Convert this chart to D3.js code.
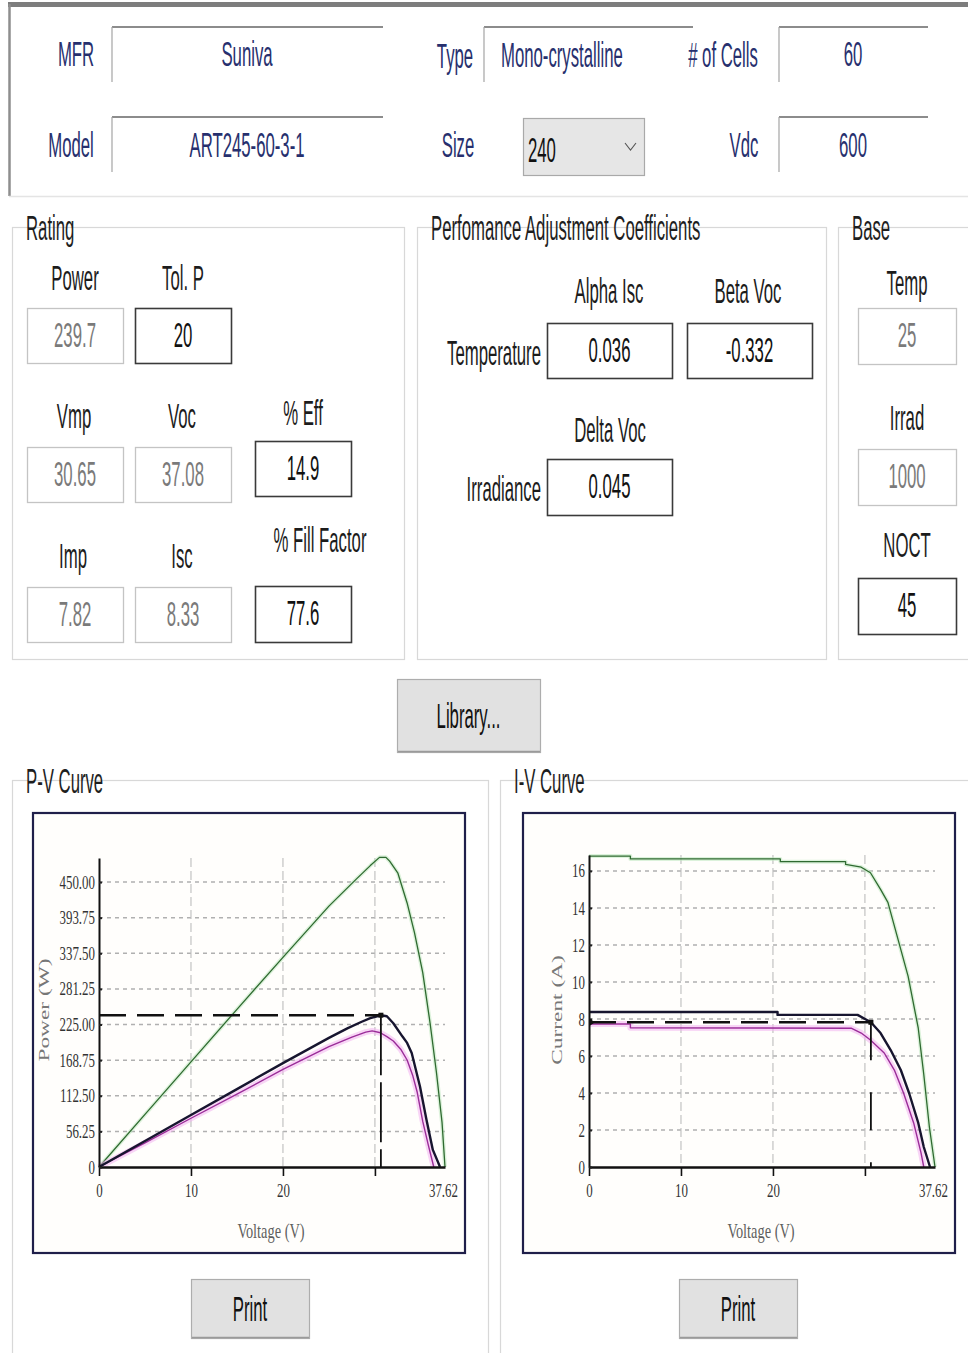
<!DOCTYPE html>
<html>
<head>
<meta charset="utf-8">
<title>PV Module Data</title>
<script src="https://cdn.jsdelivr.net/npm/d3@7"></script>
<style>
  html, body { margin: 0; padding: 0; background: #ffffff; }
  svg { display: block; }
</style>
</head>
<body>
<svg id="form" width="968" height="1353"></svg>
<script>
// ---------------- module data ----------------
const moduleFields = {
  mfr: "Suniva", type: "Mono-crystalline", cells: "60",
  model: "ART245-60-3-1", size: "240", vdc: "600"
};
const ratingValues = { power: "239.7", tolP: "20", vmp: "30.65", voc: "37.08",
  eff: "14.9", imp: "7.82", isc: "8.33", fillFactor: "77.6" };
const coefficientValues = { alphaIsc: "0.036", betaVoc: "-0.332", deltaVoc: "0.045" };
const baseValues = { temp: "25", irrad: "1000", noct: "45" };

// rated maximum power point (from the rating fields)
const ratedVmp = 30.65;
const ratedPmp = 239.7;
const ratedImp = 7.82;
const ratedVoc = 37.08;

// axis ticks
const voltageMax = 37.62;
const voltageTicks = [0, 10, 20, 30, 37.62];
const voltageTickLabels = ["0", "10", "20", "", "37.62"];
const powerMax = 488;
const powerTicks = [0, 56.25, 112.5, 168.75, 225, 281.25, 337.5, 393.75, 450];
const powerTickLabels = ["0", "56.25", "112.50", "168.75", "225.00", "281.25", "337.50", "393.75", "450.00"];
const currentMax = 16.86;
const currentTicks = [0, 2, 4, 6, 8, 10, 12, 14, 16];
const currentTickLabels = ["0", "2", "4", "6", "8", "10", "12", "14", "16"];

// P-V curves: [voltage V, power W]
const pvHighIrradiance = [[0,0],[5,83],[10,166],[15,249],[20,331],[25,412],[28,455],[29.5,476],[30.5,489],
  [31.2,489],[31.6,483],[32.5,464],[33.5,417],[34.3,370],[35.2,307],[36,227],[36.7,148],[37.3,70],[37.62,0]];
const pvRated = [[0,0],[5,41],[10,82],[15,123],[20,164],[25,204],[27,219],[28.5,229],[29.5,235],[30.65,239.7],
  [31.3,238],[32,227],[33,206],[33.5,196],[34,180],[34.9,127],[35.6,75],[36.3,27],[37.08,0]];
const pvHot = [[0,0],[5,38],[10,77],[15,115],[20,154],[25,190],[27.5,205],[29,213],[29.7,215],[30.6,212],
  [31.3,206],[32,199],[32.8,186],[33.5,169],[34.1,145],[34.6,118],[35.2,72],[35.8,35],[36.4,0]];

// I-V curves: [voltage V, current A]
const ivHighIrradiance = [[0,16.8],[4.5,16.8],[4.5,16.65],[20.8,16.65],[20.8,16.5],[27.9,16.5],[27.9,16.35],
  [29.6,16.2],[30.6,15.9],[31.7,15.0],[32.5,14.3],[33.6,12.3],[34.7,10.3],[35.8,7.5],[36.4,5.0],[37.0,2.2],[37.62,0]];
const ivRated = [[0,8.38],[20.5,8.38],[20.5,8.22],[29.2,8.22],[30.65,7.82],[31.7,7.24],[32.8,6.32],[33.9,5.24],
  [34.8,4.0],[35.8,2.38],[36.4,1.08],[37.08,0]];
const ivHot = [[0,7.73],[4.5,7.73],[4.5,7.52],[28.5,7.5],[29.6,7.24],[30.6,6.86],[32.1,6.16],[33.2,5.24],
  [34.2,4.0],[35.3,2.38],[36.1,0.76],[36.4,0]];

// ---------------- drawing helpers ----------------
const svg = d3.select("#form");
const UI_FONT = "'Liberation Sans', Arial, sans-serif";
const CHART_FONT = "'Liberation Serif', 'Times New Roman', serif";
const NAVY = "#27306e";
const TICK_SX = 0.68;

function uiText(g, s, x, y, o = {}) {
  return g.append("text")
    .attr("transform", `translate(${x},${y}) scale(${o.sx ?? 0.465},1)`)
    .attr("text-anchor", o.anchor || "middle")
    .attr("dominant-baseline", "central")
    .style("font-family", o.family || UI_FONT)
    .style("font-size", (o.size || 36) + "px")
    .attr("fill", o.fill || "#1c1c1c")
    .text(s);
}

function sunkenField(x1, x2, y, depth) {
  svg.append("line").attr("x1", x1).attr("x2", x2).attr("y1", y).attr("y2", y)
    .attr("stroke", "#8c8c8c").attr("stroke-width", 2);
  svg.append("line").attr("x1", x1).attr("x2", x1).attr("y1", y).attr("y2", y + depth)
    .attr("stroke", "#a4a4a4").attr("stroke-width", 1.2);
}

function valueBox(x, y, w, h, s, enabled, textY) {
  svg.append("rect").attr("x", x + 0.5).attr("y", y + 0.5).attr("width", w).attr("height", h)
    .attr("fill", "#ffffff")
    .attr("stroke", enabled ? "#3a3a3a" : "#c4c4c4")
    .attr("stroke-width", enabled ? 1.6 : 1.3);
  uiText(svg, s, x + w / 2, textY ?? (y + h / 2 - 1), { fill: enabled ? "#111" : "#7a7a7a" });
}

function groupBox(x1, y1, x2, y2, title) {
  svg.append("rect").attr("x", x1 + 0.5).attr("y", y1 + 0.5)
    .attr("width", x2 - x1).attr("height", y2 - y1)
    .attr("fill", "none").attr("stroke", "#d8d8d8").attr("stroke-width", 1.2);
  const t = uiText(svg, title, x1 + 14, y1 + 1, { anchor: "start", fill: "#1e1e1e" });
  const w = t.node().getComputedTextLength() * 0.465;
  svg.insert("rect", "text").attr("x", x1 + 10).attr("y", y1 - 4).attr("width", w + 8).attr("height", 9)
    .attr("fill", "#ffffff");
}

function button(x, y, w, h, s) {
  svg.append("rect").attr("x", x + 0.5).attr("y", y + 0.5).attr("width", w).attr("height", h)
    .attr("fill", "#e1e1e1").attr("stroke", "#adadad").attr("stroke-width", 1.2);
  svg.append("line").attr("x1", x + 1).attr("x2", x + w).attr("y1", y + h - 0.5).attr("y2", y + h - 0.5)
    .attr("stroke", "#9a9a9a").attr("stroke-width", 1.5);
  uiText(svg, s, x + w / 2, y + h / 2, { fill: "#111" });
}

// ---------------- header panel ----------------
svg.append("line").attr("x1", 8).attr("x2", 968).attr("y1", 4.5).attr("y2", 4.5)
  .attr("stroke", "#7d7d7d").attr("stroke-width", 5);
svg.append("line").attr("x1", 9.5).attr("x2", 9.5).attr("y1", 4).attr("y2", 196)
  .attr("stroke", "#8e8e8e").attr("stroke-width", 2.5);
svg.append("line").attr("x1", 9).attr("x2", 968).attr("y1", 196.5).attr("y2", 196.5)
  .attr("stroke", "#e4e4e4").attr("stroke-width", 1.5);

uiText(svg, "MFR", 76, 54, { fill: NAVY });
sunkenField(112, 383, 27, 55);
uiText(svg, moduleFields.mfr, 247, 54, { fill: NAVY });

uiText(svg, "Type", 455, 56, { fill: NAVY });
sunkenField(484, 693, 27, 55);
uiText(svg, moduleFields.type, 501, 55, { fill: NAVY, anchor: "start" });

uiText(svg, "# of Cells", 723, 55, { fill: NAVY });
sunkenField(779, 928, 27, 55);
uiText(svg, moduleFields.cells, 853, 54, { fill: NAVY });

uiText(svg, "Model", 71, 145, { fill: NAVY });
sunkenField(112, 383, 117, 55);
uiText(svg, moduleFields.model, 247, 145, { fill: NAVY });

uiText(svg, "Size", 458, 145, { fill: NAVY });
svg.append("rect").attr("x", 523.5).attr("y", 118.5).attr("width", 121).attr("height", 57)
  .attr("fill", "#e6e6e6").attr("stroke", "#a9a9a9").attr("stroke-width", 1.2);
uiText(svg, moduleFields.size, 528, 150, { fill: "#111", anchor: "start" });
svg.append("path").attr("d", "M625,143 L630.5,150 L636,143").attr("fill", "none")
  .attr("stroke", "#555").attr("stroke-width", 1.1);

uiText(svg, "Vdc", 744, 145, { fill: NAVY });
sunkenField(779, 928, 117, 55);
uiText(svg, moduleFields.vdc, 853, 145, { fill: NAVY });

// ---------------- rating group ----------------
groupBox(12, 227, 404, 659, "Rating");
uiText(svg, "Power", 75, 278);
uiText(svg, "Tol. P", 183, 278);
valueBox(27, 308, 96, 55, ratingValues.power, false);
valueBox(135, 308, 96, 55, ratingValues.tolP, true);
uiText(svg, "Vmp", 74, 416);
uiText(svg, "Voc", 182, 416);
uiText(svg, "% Eff", 303, 413);
valueBox(27, 447, 96, 55, ratingValues.vmp, false);
valueBox(135, 447, 96, 55, ratingValues.voc, false);
valueBox(255, 441, 96, 55, ratingValues.eff, true);
uiText(svg, "Imp", 73, 556);
uiText(svg, "Isc", 182, 556);
uiText(svg, "% Fill Factor", 320, 540);
valueBox(27, 587, 96, 55, ratingValues.imp, false);
valueBox(135, 587, 96, 55, ratingValues.isc, false);
valueBox(255, 586, 96, 56, ratingValues.fillFactor, true);

// ---------------- coefficient group ----------------
groupBox(417, 227, 826, 659, "Perfomance Adjustment Coefficients");
uiText(svg, "Alpha Isc", 609, 291);
uiText(svg, "Beta Voc", 748, 291);
uiText(svg, "Temperature", 541, 353, { anchor: "end" });
valueBox(547, 323, 125, 55, coefficientValues.alphaIsc, true);
valueBox(687, 323, 125, 55, coefficientValues.betaVoc, true);
uiText(svg, "Delta Voc", 610, 430);
uiText(svg, "Irradiance", 541, 489, { anchor: "end" });
valueBox(547, 459, 125, 56, coefficientValues.deltaVoc, true);

// ---------------- base group ----------------
groupBox(838, 227, 1000, 659, "Base");
uiText(svg, "Temp", 907, 283);
valueBox(858, 308, 98, 56, baseValues.temp, false);
uiText(svg, "Irrad", 907, 418);
valueBox(858, 449, 98, 56, baseValues.irrad, false);
uiText(svg, "NOCT", 907, 545);
valueBox(858, 578, 98, 56, baseValues.noct, true);

button(397, 679, 143, 73, "Library...");

// ---------------- curve groups ----------------
groupBox(12, 780, 488, 1400, "P-V Curve");
groupBox(500, 780, 1000, 1400, "I-V Curve");
button(191, 1279, 118, 59, "Print");
button(679, 1279, 118, 59, "Print");

function drawChart(cfg) {
  const fx = cfg.frameX, fy = 813, fw = 432, fh = 440;
  const g = svg.append("g");
  g.append("rect").attr("x", fx).attr("y", fy).attr("width", fw).attr("height", fh)
    .attr("fill", "#fffefc").attr("stroke", "#1f1f4a").attr("stroke-width", 2.2);

  const x = d3.scaleLinear().domain([0, voltageMax]).range([fx + 66, fx + 412]);
  const y = d3.scaleLinear().domain([0, cfg.yMax]).range([1167, cfg.yTop]);

  // grid
  g.append("g").selectAll("line").data(cfg.yTicks.filter(v => v > 0)).join("line")
    .attr("x1", x(0)).attr("x2", x(voltageMax)).attr("y1", d => y(d)).attr("y2", d => y(d))
    .attr("stroke", "#b0b0b0").attr("stroke-width", 1.5).attr("stroke-dasharray", "4,4");
  g.append("g").selectAll("line").data([10, 20, 30]).join("line")
    .attr("x1", d => x(d)).attr("x2", d => x(d)).attr("y1", cfg.yTop).attr("y2", y(0))
    .attr("stroke", "#bdbdbd").attr("stroke-width", 1.1).attr("stroke-dasharray", "9,4");

  // curves
  const line = d3.line().x(d => x(d[0])).y(d => y(d[1]));
  const drawCurve = (data, color, width, halo, haloWidth) => {
    if (halo) g.append("path").datum(data).attr("d", line).attr("fill", "none")
      .attr("stroke", halo).attr("stroke-width", haloWidth).attr("stroke-opacity", 0.55)
      .attr("stroke-linejoin", "round");
    g.append("path").datum(data).attr("d", line).attr("fill", "none")
      .attr("stroke", color).attr("stroke-width", width).attr("stroke-linejoin", "round");
  };
  drawCurve(cfg.high, "#2f6a30", 1.3, "#bfe8bf", 4);
  drawCurve(cfg.hot, "#9a2c98", 1.4, "#f2b2f0", 6);
  drawCurve(cfg.rated, "#17152f", 2.4, null, 0);

  // rated operating point guides
  g.append("line").attr("x1", x(0)).attr("x2", x(ratedVmp)).attr("y1", y(cfg.ratedY)).attr("y2", y(cfg.ratedY))
    .attr("stroke", "#111").attr("stroke-width", 2.6).attr("stroke-dasharray", "27,11");
  g.append("line").attr("x1", x(ratedVmp)).attr("x2", x(ratedVmp)).attr("y1", y(cfg.ratedY)).attr("y2", y(0))
    .attr("stroke", "#111").attr("stroke-width", 1.8).attr("stroke-dasharray", cfg.vDash);
  g.append("rect").attr("x", x(ratedVmp) - 2.5).attr("y", y(cfg.ratedY) - 2.5).attr("width", 5).attr("height", 5)
    .attr("fill", "#111");

  // axes
  const xAxis = g.append("g").attr("transform", `translate(0,${y(0)})`)
    .call(d3.axisBottom(x).tickValues(voltageTicks)
      .tickFormat((d, i) => voltageTickLabels[i]).tickSizeInner(9).tickSizeOuter(0).tickPadding(8));
  xAxis.select(".domain").attr("stroke", "#111").attr("stroke-width", 2.6);
  xAxis.selectAll(".tick line").attr("stroke", "#111").attr("stroke-width", 1.6)
    .attr("opacity", (d, i) => i === voltageTicks.length - 1 ? 0 : 1);
  xAxis.selectAll(".tick text")
    .attr("transform", `scale(${TICK_SX},1)`).attr("fill", "#333")
    .style("font-family", CHART_FONT).style("font-size", "19px");
  xAxis.selectAll(".tick").filter((d, i) => i === voltageTicks.length - 1)
    .select("text").attr("x", -3);

  const yAxis = g.append("g").attr("transform", `translate(${x(0)},0)`)
    .call(d3.axisLeft(y).tickValues(cfg.yTicks)
      .tickFormat((d, i) => cfg.yLabels[i]).tickSizeInner(-3).tickSizeOuter(0).tickPadding(4));
  yAxis.select(".domain").attr("stroke", "#111").attr("stroke-width", 2);
  yAxis.selectAll(".tick line").attr("stroke", "#222").attr("stroke-width", 2);
  yAxis.selectAll(".tick text")
    .attr("transform", `scale(${TICK_SX},1)`).attr("fill", "#333")
    .style("font-family", CHART_FONT).style("font-size", "19px");
  yAxis.selectAll(".tick text").attr("x", -4 / TICK_SX);

  // titles
  g.append("text").attr("transform", `translate(${fx + 238},1231) scale(0.72,1)`)
    .attr("text-anchor", "middle").attr("dominant-baseline", "central")
    .style("font-family", CHART_FONT).style("font-size", "20px").attr("fill", "#5e5e5e")
    .text("Voltage (V)");
  g.append("text").attr("transform", `translate(${fx + cfg.titleDx},1010) rotate(-90) scale(1.3,0.8)`)
    .attr("text-anchor", "middle").attr("dominant-baseline", "central")
    .style("font-family", CHART_FONT).style("font-size", "18px").attr("fill", "#777")
    .text(cfg.yTitle);
  return { g, x, y };
}

drawChart({
  frameX: 33, yMax: powerMax, yTop: 858, yTicks: powerTicks, yLabels: powerTickLabels,
  high: pvHighIrradiance, rated: pvRated, hot: pvHot, ratedY: ratedPmp,
  vDash: "60,7", yTitle: "Power (W)", titleDx: 11
});
const iv = drawChart({
  frameX: 523, yMax: currentMax, yTop: 855, yTicks: currentTicks, yLabels: currentTickLabels,
  high: ivHighIrradiance, rated: ivRated, hot: ivHot, ratedY: ratedImp,
  vDash: "38,32", yTitle: "Current (A)", titleDx: 34
});
// operating point marker at the current axis
iv.g.append("path")
  .attr("d", `M${iv.x(0)},${iv.y(ratedImp) - 4} L${iv.x(0) + 6},${iv.y(ratedImp)} L${iv.x(0)},${iv.y(ratedImp) + 4}Z`)
  .attr("fill", "#111");
</script>
</body>
</html>
